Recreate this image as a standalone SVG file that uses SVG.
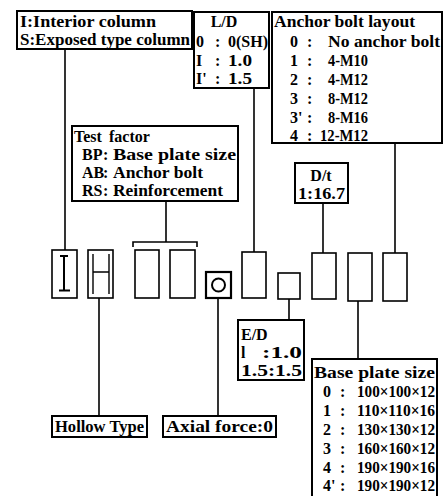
<svg xmlns="http://www.w3.org/2000/svg" width="447" height="496" viewBox="0 0 447 496">
<style>
.b{fill:#fff;stroke:#000;stroke-width:2}
.c{fill:none;stroke:#000;stroke-width:1.6}
.col{fill:none;stroke:#000;stroke-width:1.6}
text{font-family:"Liberation Serif",serif;font-weight:bold;font-size:16px;fill:#000}
</style>
<rect width="447" height="496" fill="#fff"/>
<g id="connectors">
<line class="c" x1="65" y1="49" x2="65" y2="250"/>
<line class="c" x1="254" y1="88" x2="254" y2="252"/>
<line class="c" x1="395" y1="143" x2="395" y2="253"/>
<line class="c" x1="323" y1="203" x2="323" y2="253"/>
<line class="c" x1="166" y1="201" x2="166" y2="242"/>
<path class="c" d="M133,247 V242 H197 V247"/>
<line class="c" x1="99" y1="298" x2="99" y2="416"/>
<line class="c" x1="218" y1="298" x2="218" y2="416"/>
<line class="c" x1="289" y1="299" x2="289" y2="320"/>
<line class="c" x1="358" y1="301" x2="358" y2="359"/>
</g>
<g id="legend">
<rect class="b" x="17" y="11" width="175" height="38"/>
<text x="20" y="27" textLength="136" lengthAdjust="spacingAndGlyphs">I:Interior column</text>
<text x="20" y="45" textLength="170" lengthAdjust="spacingAndGlyphs">S:Exposed type column</text>
</g>
<g id="ld">
<rect class="b" x="194" y="12" width="75" height="76"/>
<text x="224" y="27" text-anchor="middle">L/D</text>
<text x="196" y="47">0</text><text x="215" y="47">:</text><text x="228" y="47" textLength="40" lengthAdjust="spacingAndGlyphs">0(SH)</text>
<text x="196" y="66">I</text><text x="215" y="66">:</text><text x="228" y="66" textLength="24" lengthAdjust="spacingAndGlyphs">1.0</text>
<text x="196" y="84">I'</text><text x="215" y="84">:</text><text x="228" y="84" textLength="24" lengthAdjust="spacingAndGlyphs">1.5</text>
</g>
<g id="anchor">
<rect class="b" x="272" y="12" width="170" height="131"/>
<text x="274" y="27" textLength="141" lengthAdjust="spacingAndGlyphs">Anchor bolt layout</text>
<text x="290" y="47">0</text><text x="307" y="47">:</text><text x="328" y="47" textLength="112" lengthAdjust="spacingAndGlyphs">No anchor bolt</text>
<text x="290" y="66">1</text><text x="307" y="66">:</text><text x="328" y="66" textLength="40" lengthAdjust="spacingAndGlyphs">4-M10</text>
<text x="290" y="85">2</text><text x="307" y="85">:</text><text x="328" y="85" textLength="40" lengthAdjust="spacingAndGlyphs">4-M12</text>
<text x="290" y="104">3</text><text x="307" y="104">:</text><text x="328" y="104" textLength="40" lengthAdjust="spacingAndGlyphs">8-M12</text>
<text x="290" y="123">3'</text><text x="307" y="123">:</text><text x="328" y="123" textLength="40" lengthAdjust="spacingAndGlyphs">8-M16</text>
<text x="290" y="141">4</text><text x="307" y="141">:</text><text x="320" y="141" textLength="48" lengthAdjust="spacingAndGlyphs">12-M12</text>
</g>
<g id="testfactor">
<rect class="b" x="72" y="126" width="166" height="75"/>
<text x="74" y="142">Test</text><text x="109" y="142">factor</text>
<text x="82" y="160">BP</text><text x="103" y="160">:</text><text x="113" y="160" textLength="123" lengthAdjust="spacingAndGlyphs">Base plate size</text>
<text x="82" y="178">AB</text><text x="103" y="178">:</text><text x="113" y="178" textLength="90" lengthAdjust="spacingAndGlyphs">Anchor bolt</text>
<text x="82" y="196">RS</text><text x="103" y="196">:</text><text x="113" y="196" textLength="110" lengthAdjust="spacingAndGlyphs">Reinforcement</text>
</g>
<g id="dt">
<rect class="b" x="295" y="163" width="53" height="40"/>
<text x="321" y="181" text-anchor="middle">D/t</text>
<text x="298" y="199" textLength="47" lengthAdjust="spacingAndGlyphs">1:16.7</text>
</g>
<g id="col-i">
<rect class="col" x="52" y="250" width="25" height="48"/>
<path d="M64,256 V290 M60,256 H68 M59,290.5 H70" fill="none" stroke="#000" stroke-width="2"/>
</g>
<g id="col-h">
<rect class="col" x="88" y="250" width="25" height="48"/>
<path d="M93,254 V294 M109,254 V294 M93,272 H109" fill="none" stroke="#000" stroke-width="1.4"/>
</g>
<g id="col-3"><rect class="col" x="135" y="250" width="24" height="48"/></g>
<g id="col-4"><rect class="col" x="170" y="250" width="25" height="48"/></g>
<g id="col-o">
<rect x="206" y="272" width="25" height="26" fill="none" stroke="#000" stroke-width="2.2"/>
<circle cx="218.5" cy="285" r="6.5" fill="none" stroke="#000" stroke-width="2"/>
</g>
<g id="col-ld"><rect class="col" x="242" y="252" width="24" height="46"/></g>
<g id="col-ed"><rect class="col" x="278" y="273" width="22" height="26"/></g>
<g id="col-dt"><rect class="col" x="312" y="253" width="24" height="46"/></g>
<g id="col-bp"><rect class="col" x="348" y="253" width="24" height="48"/></g>
<g id="col-ab"><rect class="col" x="383" y="253" width="24" height="48"/></g>
<g id="ed">
<rect class="b" x="238" y="320" width="66" height="60"/>
<text x="241" y="340">E/D</text>
<text x="241" y="358">l</text><text x="262" y="358" textLength="40" lengthAdjust="spacingAndGlyphs">:1.0</text>
<text x="241" y="376" textLength="61" lengthAdjust="spacingAndGlyphs">1.5:1.5</text>
</g>
<g id="hollow">
<rect class="b" x="52" y="416" width="95" height="21"/>
<text x="55" y="432" textLength="89" lengthAdjust="spacingAndGlyphs">Hollow Type</text>
</g>
<g id="axial">
<rect class="b" x="163" y="416" width="113" height="21"/>
<text x="166" y="432" textLength="107" lengthAdjust="spacingAndGlyphs">Axial force:0</text>
</g>
<g id="baseplate">
<rect class="b" x="312" y="359" width="125" height="145"/>
<text x="314" y="378" textLength="121" lengthAdjust="spacingAndGlyphs">Base plate size</text>
<text x="323" y="397">0</text><text x="340" y="397">:</text><text x="357" y="397" textLength="78" lengthAdjust="spacingAndGlyphs">100×100×12</text>
<text x="323" y="416">1</text><text x="340" y="416">:</text><text x="357" y="416" textLength="78" lengthAdjust="spacingAndGlyphs">110×110×16</text>
<text x="323" y="435">2</text><text x="340" y="435">:</text><text x="357" y="435" textLength="78" lengthAdjust="spacingAndGlyphs">130×130×12</text>
<text x="323" y="454">3</text><text x="340" y="454">:</text><text x="357" y="454" textLength="78" lengthAdjust="spacingAndGlyphs">160×160×12</text>
<text x="323" y="473">4</text><text x="340" y="473">:</text><text x="357" y="473" textLength="78" lengthAdjust="spacingAndGlyphs">190×190×16</text>
<text x="323" y="491">4'</text><text x="340" y="491">:</text><text x="357" y="491" textLength="78" lengthAdjust="spacingAndGlyphs">190×190×12</text>
</g>
</svg>
